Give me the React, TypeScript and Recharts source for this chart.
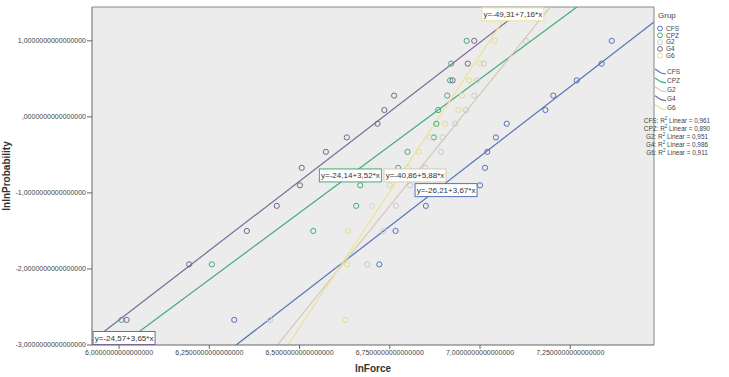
import React from 'react';
import {
  ComposedChart,
  XAxis,
  YAxis,
  Scatter,
  Line,
  CartesianGrid,
  ReferenceLine,
  ReferenceDot,
} from 'recharts';

// ---------- data ----------
const groups = ['CFS', 'CPZ', 'G2', 'G4', 'G6'];
const groupColors = ['#5672b8', '#42ab78', '#d2cab4', '#7a6898', '#ebe296'];
const markerColors = ['#5672b8', '#42ab78', '#cacaca', '#72668c', '#e6dc8a'];

// lnlnProbability levels (ranked)
const yLevels = [-2.67, -1.94, -1.5, -1.17, -0.9, -0.67, -0.46, -0.27, -0.09, 0.09, 0.28, 0.48, 0.7, 1.0];

const cfsX = [6.319, 6.721, 6.766, 6.85, 7.0, 7.014, 7.02, 7.044, 7.074, 7.181, 7.203, 7.268, 7.337, 7.365];
const cpzX = [6.007, 6.257, 6.538, 6.657, 6.668, 6.773, 6.799, 6.872, 6.879, 6.884, 6.909, 6.917, 6.92, 6.963];
const g2X = [6.418, 6.688, 6.732, 6.767, 6.806, 6.848, 6.892, 6.896, 6.931, 6.961, 6.984, 6.991, 7.011, 7.127];
const g4X = [6.021, 6.194, 6.354, 6.437, 6.501, 6.506, 6.573, 6.631, 6.716, 6.735, 6.762, 6.924, 6.966, 6.984];
const g6X = [6.626, 6.632, 6.635, 6.7, 6.75, 6.8, 6.83, 6.86, 6.903, 6.94, 6.95, 6.97, 7.0, 7.04];

const groupX = [cfsX, cpzX, g2X, g4X, g6X];

// fit lines: y = a + b*x
const intercepts = [-26.21, -24.14, -40.86, -24.57, -49.31];
const slopes = [3.67, 3.52, 5.88, 3.65, 7.16];
const interceptLabels = ['-26,21', '-24,14', '-40,86', '-24,57', '-49,31'];
const slopeLabels = ['3,67', '3,52', '5,88', '3,65', '7,16'];
const r2Labels = ['0,961', '0,890', '0,951', '0,986', '0,911'];

// equation label anchors (data coords, left-middle of box)
const eqLabelX = [6.82, 6.555, 6.734, 5.928, 7.005];
const eqLabelY = [-0.963, -0.77, -0.77, -2.908, 1.349];

const xTicks = [6, 6.25, 6.5, 6.75, 7, 7.25];
const yTicks = [-3, -2, -1, 0, 1];
const xDomain: [number, number] = [5.925, 7.482];
const yDomain: [number, number] = [-3, 1.445];

const FONT = '"Liberation Sans", Arial, sans-serif';

const fmt = (v: number) => {
  const s = Math.abs(v).toFixed(16).replace('.', ',');
  const t = s.startsWith('0,') ? s.slice(1) : s;
  return (v < 0 ? '-' : '') + t;
};

const pointsFor = (i: number) => groupX[i].map((x, k) => ({ x, y: yLevels[k] }));
const fitFor = (i: number) =>
  xDomain.map((x) => ({ x, y: intercepts[i] + slopes[i] * x }));

const XTick = (props: any) => {
  const { x, y, payload } = props;
  return (
    <text x={x} y={y} dy="0.62em" textAnchor="middle" fontSize={7} fill="#444" fontFamily={FONT}>
      {fmt(payload.value)}
    </text>
  );
};

const YTick = (props: any) => {
  const { x, y, payload } = props;
  return (
    <text x={x} y={y} dy="0.35em" textAnchor="end" fontSize={7} fill="#444" fontFamily={FONT}>
      {fmt(payload.value)}
    </text>
  );
};

const makeCircle = (color: string) => (p: any) =>
  p.cx == null ? <g /> : (
    <circle cx={p.cx} cy={p.cy} r={2.6} fill="none" stroke={color} strokeWidth={1} />
  );

const makeEqLabel = (i: number) => (p: any) => {
  const text = `y=${interceptLabels[i]}+${slopeLabels[i]}*x`;
  const w = 62;
  const h = 13;
  return (
    <g>
      <rect x={p.cx} y={p.cy - h / 2} width={w} height={h} fill="#ffffff" stroke={groupColors[i]} strokeWidth={1} />
      <text x={p.cx + w / 2} y={p.cy} dy="0.35em" textAnchor="middle" fontSize={8} fill="#333" fontFamily={FONT}>
        {text}
      </text>
    </g>
  );
};

const Legend = () => {
  const mY = (i: number) => 28.5 + i * 6.8;
  const lY = (i: number) => 72 + i * 8.9;
  const rY = (i: number) => 120.5 + i * 8;
  return (
    <svg
      width={729}
      height={377}
      style={{ position: 'absolute', left: 0, top: 0, pointerEvents: 'none' }}
      fontFamily={FONT}
    >
      <text x={658} y={18} fontSize={8} fill="#444">
        Grup
      </text>
      {groups.map((g, i) => (
        <g key={'m' + g}>
          <circle cx={660} cy={mY(i)} r={2.4} fill="none" stroke={markerColors[i]} strokeWidth={1} />
          <text x={666} y={mY(i)} dy="0.35em" fontSize={6.5} fill="#444">
            {g}
          </text>
        </g>
      ))}
      {groups.map((g, i) => (
        <g key={'l' + g}>
          <path
            d={`M655,${lY(i) - 3} L661,${lY(i) + 1} L666,${lY(i) + 2}`}
            fill="none"
            stroke={groupColors[i]}
            strokeWidth={1.2}
          />
          <text x={667} y={lY(i)} dy="0.35em" fontSize={6.5} fill="#444">
            {g}
          </text>
        </g>
      ))}
      {groups.map((g, i) => (
        <text key={'r' + g} x={677} y={rY(i)} dy="0.35em" fontSize={6.4} fill="#444" textAnchor="middle">
          {`${g}: R`}
          <tspan fontSize={4.5} dy="-3">
            2
          </tspan>
          <tspan dy="3">{` Linear = ${r2Labels[i]}`}</tspan>
        </text>
      ))}
    </svg>
  );
};

export default function App() {
  return (
    <div style={{ position: 'absolute', left: 0, top: 0, width: 729, height: 377, background: '#ffffff' }}>
      <ComposedChart width={729} height={377} margin={{ top: 7, right: 75, bottom: 0, left: 0 }}>
        <CartesianGrid fill="#ececec" horizontal={false} vertical={false} />
        <XAxis
          type="number"
          dataKey="x"
          domain={xDomain}
          allowDataOverflow
          ticks={xTicks}
          interval={0}
          tick={XTick}
          tickSize={4}
          tickMargin={2}
          height={32}
          stroke="#666"
          tickLine={{ stroke: '#666' }}
          label={{
            value: 'lnForce',
            position: 'insideBottom',
            offset: 5,
            style: { fontSize: 10, fontWeight: 'bold', fill: '#333', fontFamily: FONT },
          }}
        />
        <YAxis
          type="number"
          dataKey="y"
          domain={yDomain}
          allowDataOverflow
          ticks={yTicks}
          interval={0}
          tick={YTick}
          tickSize={5}
          tickMargin={1}
          width={92}
          stroke="#666"
          tickLine={{ stroke: '#666' }}
          label={{
            value: 'lnlnProbability',
            angle: -90,
            position: 'insideLeft',
            offset: 6,
            style: { fontSize: 10, fontWeight: 'bold', fill: '#333', fontFamily: FONT, textAnchor: 'middle' },
          }}
        />
        <ReferenceLine y={yDomain[1]} stroke="#888" ifOverflow="visible" />
        <ReferenceLine x={xDomain[1]} stroke="#888" ifOverflow="visible" />
        {groups.map((g, i) => (
          <Scatter
            key={'s' + g}
            name={g}
            data={pointsFor(i)}
            dataKey="y"
            shape={makeCircle(markerColors[i])}
            isAnimationActive={false}
          />
        ))}
        {groups.map((g, i) => (
          <Line
            key={'f' + g}
            data={fitFor(i)}
            dataKey="y"
            stroke={groupColors[i]}
            strokeWidth={1.2}
            dot={false}
            activeDot={false}
            isAnimationActive={false}
          />
        ))}
        {groups.map((g, i) => (
          <ReferenceDot
            key={'e' + g}
            x={eqLabelX[i]}
            y={eqLabelY[i]}
            r={0}
            ifOverflow="visible"
            shape={makeEqLabel(i)}
          />
        ))}
      </ComposedChart>
      <Legend />
    </div>
  );
}
